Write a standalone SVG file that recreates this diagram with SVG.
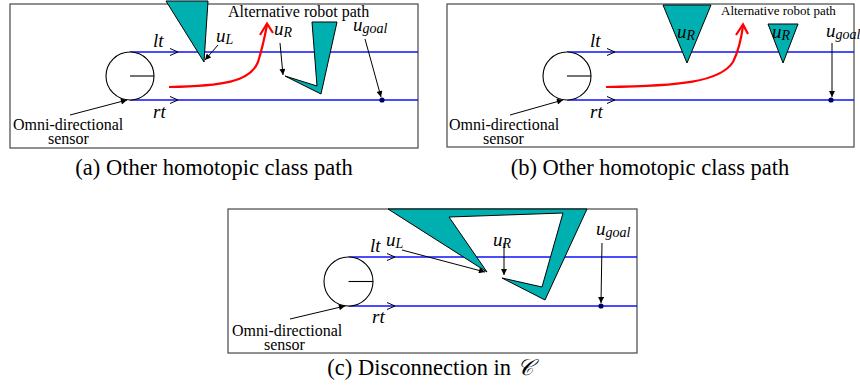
<svg xmlns="http://www.w3.org/2000/svg" width="860" height="391" viewBox="0 0 860 391">
<style>
.frame{fill:#fff;stroke:#555;stroke-width:1.3}
.track{stroke:#1010ff;stroke-width:1.5;fill:none}
.chev{stroke:#000;stroke-width:1;fill:none}
.sensor{fill:#fff;stroke:#000;stroke-width:1.1}
.rad{stroke:#000;stroke-width:1.1}
.obs{fill:#00b0b0;stroke:#000;stroke-width:1}
.lbl{stroke:#000;stroke-width:1;fill:none;marker-end:url(#ah)}
.red{stroke:#ff0000;stroke-width:2.2;fill:none}
.dot{fill:#000060}
.t{font-family:"Liberation Serif","Times New Roman",serif;fill:#000}
.it{font-style:italic}
.m{font-size:19px}
.s{font-size:14px}
.cap{font-size:22.5px}
.om{font-size:16px}
</style>
<defs>
<marker id="ah" viewBox="0 0 10 10" refX="10" refY="5" markerWidth="9" markerHeight="6" orient="auto" markerUnits="userSpaceOnUse">
<path d="M0,0 L10,5 L0,10 z" fill="#000"/>
</marker>
</defs>

<!-- Panel (a) -->
<g id="panel-a">
<rect class="frame" x="10" y="4" width="408" height="144"/>
<g id="a-tracks">
<line class="track" x1="130" y1="52" x2="418" y2="52"/>
<line class="track" x1="130" y1="100" x2="418" y2="100"/>
<polyline class="chev" points="170,48.5 178,52 170,55.5"/>
<polyline class="chev" points="170,96.5 178,100 170,103.5"/>
</g>
<g id="a-sensor">
<circle class="sensor" cx="130" cy="76" r="24"/>
<line class="rad" x1="130" y1="76" x2="154" y2="76"/>
</g>
<g id="a-obstacle-left"><polygon class="obs" points="166,1 208,1 204,62"/></g>
<g id="a-obstacle-right"><polygon class="obs" points="312,22 337,22 321,94 285,76 317,86"/></g>
<g id="a-goal"><circle class="dot" cx="382" cy="100" r="2.6"/></g>
<g id="a-connectors">
<path class="red" d="M169,87 C222,86 250,82 258,62 Q263,46 267,25"/>
<polyline class="red" points="260,35 267,23.5 273,33"/>
<line class="lbl" x1="218" y1="45" x2="205" y2="60"/>
<line class="lbl" x1="280" y1="43" x2="283" y2="75"/>
<line class="lbl" x1="365" y1="39" x2="381" y2="97"/>
<line class="lbl" x1="70" y1="115" x2="127" y2="100"/>
</g>
<g id="a-labels">
<text class="t" x="228" y="17" font-size="16">Alternative robot path</text>
<text class="t it m" x="153" y="47">lt</text>
<text class="t it m" x="153" y="118">rt</text>
<text class="t it m" x="216" y="42">u<tspan class="s" dy="2">L</tspan></text>
<text class="t it m" x="274" y="35">u<tspan class="s" dy="2">R</tspan></text>
<text class="t it m" x="353" y="31">u<tspan class="s" dy="2">goal</tspan></text>
<text class="t om" x="13" y="130">Omni-directional</text>
<text class="t om" x="48" y="144">sensor</text>
</g>
</g>
<text class="t cap" x="214" y="175" text-anchor="middle">(a) Other homotopic class path</text>

<!-- Panel (b) -->
<g id="panel-b">
<rect class="frame" x="447" y="4" width="407" height="143"/>
<g id="b-tracks">
<line class="track" x1="567" y1="52" x2="854" y2="52"/>
<line class="track" x1="567" y1="100" x2="854" y2="100"/>
<polyline class="chev" points="607,48.5 615,52 607,55.5"/>
<polyline class="chev" points="607,96.5 615,100 607,103.5"/>
</g>
<g id="b-sensor">
<circle class="sensor" cx="567" cy="76" r="24"/>
<line class="rad" x1="567" y1="76" x2="591" y2="76"/>
</g>
<g id="b-obstacle-1"><polygon class="obs" points="663,5 711,5 687,63"/></g>
<g id="b-obstacle-2"><polygon class="obs" points="768,24 798,24 783,63"/></g>
<g id="b-goal"><circle class="dot" cx="831" cy="100" r="2.6"/></g>
<g id="b-connectors">
<path class="red" d="M606,87 C680,86 720,82 733,62 Q740,48 743,26"/>
<polyline class="red" points="736,35 743,24.5 748,34"/>
<line class="lbl" x1="832" y1="43" x2="832" y2="97"/>
<line class="lbl" x1="510" y1="115" x2="563" y2="100"/>
</g>
<g id="b-labels">
<text class="t" x="721" y="15" font-size="13">Alternative robot path</text>
<text class="t it m" x="590" y="47">lt</text>
<text class="t it m" x="590" y="118">rt</text>
<text class="t it m" x="677" y="38">u<tspan class="s" dy="2">R</tspan></text>
<text class="t it m" x="772" y="38">u<tspan class="s" dy="2">R</tspan></text>
<text class="t it m" x="826" y="37">u<tspan class="s" dy="2">goal</tspan></text>
<text class="t om" x="449" y="130">Omni-directional</text>
<text class="t om" x="483" y="144">sensor</text>
</g>
</g>
<text class="t cap" x="650" y="175" text-anchor="middle">(b) Other homotopic class path</text>

<!-- Panel (c) -->
<g id="panel-c">
<rect class="frame" x="228" y="209" width="409" height="144"/>
<g id="c-tracks">
<line class="track" x1="348.5" y1="257" x2="637" y2="257"/>
<line class="track" x1="348.5" y1="306" x2="637" y2="306"/>
<polyline class="chev" points="387,253.5 395,257 387,260.5"/>
<polyline class="chev" points="387,302.5 395,306 387,309.5"/>
</g>
<g id="c-sensor">
<circle class="sensor" cx="348.5" cy="281.5" r="24.5"/>
<line class="rad" x1="348.5" y1="281.5" x2="373" y2="281.5"/>
</g>
<g id="c-obstacle"><polygon class="obs" points="388,209 587,209 545,300 502,278 542,287 563,213 449,217 487,272"/></g>
<g id="c-goal"><circle class="dot" cx="601" cy="306" r="2.6"/></g>
<g id="c-connectors">
<line class="lbl" x1="402" y1="250" x2="485" y2="272"/>
<line class="lbl" x1="504" y1="243" x2="504" y2="275"/>
<line class="lbl" x1="602" y1="243" x2="601" y2="303"/>
<line class="lbl" x1="290" y1="319" x2="345" y2="306"/>
</g>
<g id="c-labels">
<text class="t it m" x="370" y="252">lt</text>
<text class="t it m" x="372" y="323">rt</text>
<text class="t it m" x="386" y="246">u<tspan class="s" dy="2">L</tspan></text>
<text class="t it m" x="493" y="246">u<tspan class="s" dy="2">R</tspan></text>
<text class="t it m" x="596" y="235">u<tspan class="s" dy="2">goal</tspan></text>
<text class="t om" x="232" y="336">Omni-directional</text>
<text class="t om" x="264" y="350">sensor</text>
</g>
</g>
<text class="t cap" x="430" y="375" text-anchor="middle">(c) Disconnection in <tspan font-family="'DejaVu Serif','Noto Sans',serif" font-style="italic">𝒞</tspan></text>
</svg>
